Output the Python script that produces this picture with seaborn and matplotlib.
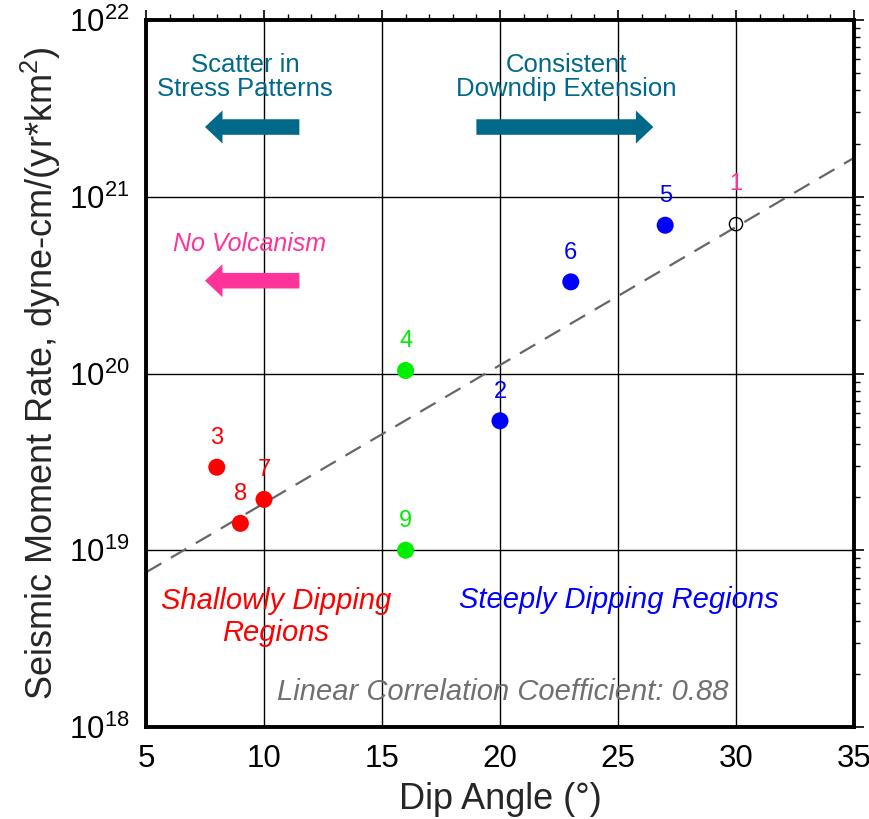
import numpy as np
import pandas as pd
import matplotlib
matplotlib.use("Agg")
import matplotlib.pyplot as plt
import seaborn as sns

# data
region_ids = ['1', '2', '3', '4', '5', '6', '7', '8', '9']
dip_angle = [30, 20, 8, 16, 27, 23, 10, 9, 16]
moment_rate = [7.0e20, 5.4e19, 2.95e19, 1.04e20, 6.9e20, 3.3e20, 1.94e19, 1.42e19, 1.0e19]
group = ['open', 'steep', 'shallow', 'mid', 'steep', 'steep', 'shallow', 'shallow', 'mid']
label_colors = ['#ff3399', 'blue', 'red', '#00ee00', 'blue', 'blue', 'red', 'red', '#00ee00']

fit_x = [5, 35]
fit_y = [7.5e18, 1.66e21]

sns.set_style("white")
plt.rcParams['font.family'] = ['Liberation Sans', 'DejaVu Sans']
plt.rcParams['mathtext.fontset'] = 'custom'
plt.rcParams['mathtext.rm'] = 'Liberation Sans'

df = pd.DataFrame({'id': region_ids, 'dip': dip_angle, 'rate': moment_rate,
                   'group': group})

fig = plt.figure(figsize=(8.7, 8.19), dpi=100)
ax = fig.add_axes([0.1678, 0.1123, 0.8138, 0.8633])
ax.set_yscale('log')
ax.set_xlim(5, 35)
ax.set_ylim(1e18, 1e22)

ax.grid(True, which='major', color='black', linewidth=1)
ax.set_axisbelow(True)

# fit line
sns.lineplot(x=fit_x, y=fit_y, ax=ax, color='#666666', linewidth=1.6,
             dashes=False, zorder=2)
ax.lines[-1].set_dashes([8, 5])

filled = df[df.group != 'open']
sns.scatterplot(data=filled, x='dip', y='rate', hue='group',
                palette={'steep': 'blue', 'shallow': 'red', 'mid': '#00ee00'},
                s=150, edgecolor='none', legend=False, ax=ax, zorder=3)
opened = df[df.group == 'open']
sns.scatterplot(data=opened, x='dip', y='rate', s=90, facecolor='none',
                edgecolor='black', linewidth=1, legend=False, ax=ax, zorder=3)

for x, y, t, c in zip(dip_angle, moment_rate, region_ids, label_colors):
    off = 21 if t == '1' else 13
    ax.annotate(t, (x, y), xytext=(0, off), textcoords='offset points',
                ha='center', va='bottom', color=c, fontsize=17)

# arrows and annotations
teal = '#00698a'
arrow_style = 'simple,head_width=1.7,head_length=0.9,tail_width=0.8'
ax.annotate('', xy=(7.5, 2.48e21), xytext=(11.5, 2.48e21),
            arrowprops=dict(arrowstyle=arrow_style, color=teal, lw=0,
                            mutation_scale=14, shrinkA=0, shrinkB=0))
ax.annotate('', xy=(26.5, 2.48e21), xytext=(19.0, 2.48e21),
            arrowprops=dict(arrowstyle=arrow_style, color=teal, lw=0,
                            mutation_scale=14, shrinkA=0, shrinkB=0))
ax.annotate('', xy=(7.5, 3.35e20), xytext=(11.5, 3.35e20),
            arrowprops=dict(arrowstyle=arrow_style, color='#ff3399', lw=0,
                            mutation_scale=14, shrinkA=0, shrinkB=0))

ax.text(9.2, 4.75e21, 'Scatter in\nStress Patterns', color=teal, fontsize=18.5,
        ha='center', va='center', linespacing=1.0)
ax.text(22.8, 4.75e21, 'Consistent\nDowndip Extension', color=teal, fontsize=18.5,
        ha='center', va='center', linespacing=1.0)
ax.text(9.4, 5.4e20, 'No Volcanism', color='#ff3399', fontsize=18,
        style='italic', ha='center', va='center')
ax.text(10.5, 4.2e18, 'Shallowly Dipping\nRegions', color='red', fontsize=21,
        style='italic', ha='center', va='center', linespacing=1.2)
ax.text(25.05, 5.25e18, 'Steeply Dipping Regions', color='blue', fontsize=21,
        style='italic', ha='center', va='center')
ax.text(20.1, 1.58e18, 'Linear Correlation Coefficient: 0.88', color='#707070',
        fontsize=21, style='italic', ha='center', va='center')

ax.set_xticks([5, 10, 15, 20, 25, 30, 35])
ax.set_xticks(np.arange(5, 36, 1), minor=True)
ax.tick_params(which='both', direction='out', top=True, right=True,
               labelsize=22.5, colors='black')
ax.tick_params(which='major', length=7, width=1.2, pad=5)
ax.tick_params(which='minor', length=4, width=1)
for s in ax.spines.values():
    s.set_visible(True)
    s.set_linewidth(2.8)
    s.set_color('black')

ax.set_xlabel('Dip Angle (°)', fontsize=26, labelpad=6)
ax.set_ylabel('Seismic Moment Rate, dyne-cm/(yr*km$^2$)', fontsize=26,
              labelpad=4)

fig.savefig('out.png', dpi=100)
